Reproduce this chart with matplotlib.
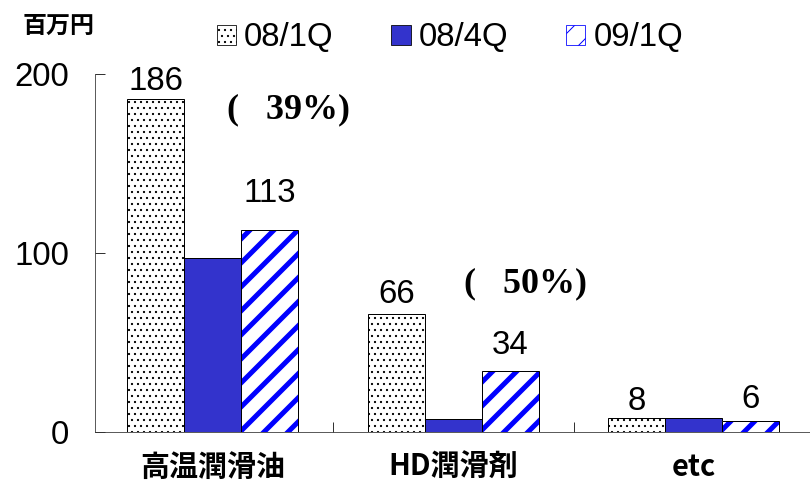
import matplotlib.pyplot as plt
import numpy as np
from matplotlib.patches import Patch

categories = ["高温潤滑油", "HD潤滑剤", "etc"]
series_names = ["08/1Q", "08/4Q", "09/1Q"]
q1_08 = [186, 66, 8]
q4_08 = [97, 7, 8]
q1_09 = [113, 34, 6]
# value labels and how far above the bar top their centre sits
labels_q1_08 = ["186", "66", "8"]
labels_q1_09 = ["113", "34", "6"]
label_gap_q1_08 = [12, 13, 11]
label_gap_q1_09 = [22, 16, 14]
change_texts = ["(   39%)", "(   50%)"]

plt.rcParams['font.family'] = ['Liberation Sans', 'Noto Sans CJK JP']

DPI = 72
fig = plt.figure(figsize=(810 / DPI, 484 / DPI), dpi=DPI)
ax = fig.add_axes([95 / 810, 52 / 484, 715 / 810, 358 / 484])

x = np.arange(len(categories))
w = 0.237
blue = "#3333CC"

with plt.rc_context({'hatch.linewidth': 1.0}):
    ax.bar(x - w, q1_08, w, color="white", edgecolor="black", hatch="..", linewidth=0)
ax.bar(x, q4_08, w, color=blue, edgecolor="black", linewidth=1)
with plt.rc_context({'hatch.linewidth': 5.0}):
    ax.bar(x + w, q1_09, w, color="white", edgecolor="#0000FF", hatch="/", linewidth=0)
# black outlines on top of the hatched bars
ax.bar(x - w, q1_08, w, fill=False, edgecolor="black", linewidth=1)
ax.bar(x + w, q1_09, w, fill=False, edgecolor="black", linewidth=1)

for i in range(len(categories)):
    ax.text(x[i] - w, q1_08[i] + label_gap_q1_08[i], labels_q1_08[i],
            ha="center", va="center_baseline", fontsize=33)
    ax.text(x[i] + w, q1_09[i] + label_gap_q1_09[i], labels_q1_09[i],
            ha="center", va="center_baseline", fontsize=33)

ax.text(0.058, 180, change_texts[0], fontsize=36, fontweight="bold",
        family="Liberation Serif", va="center", ha="left")
ax.text(1.046, 83, change_texts[1], fontsize=36, fontweight="bold",
        family="Liberation Serif", va="center", ha="left")

ax.set_xlim(-0.49, -0.49 + 715 / 240.5)
ax.set_ylim(0, 200)
ax.set_yticks([0, 100, 200])
ax.tick_params(axis="y", direction="in", length=10, labelsize=33, pad=26)
ax.set_xticks([0.5, 1.5])
ax.set_xticklabels([])
ax.tick_params(axis="x", direction="in", length=10)
ax.spines["top"].set_visible(False)
ax.spines["right"].set_visible(False)
for s in ["left", "bottom"]:
    ax.spines[s].set_color("#333333")

for i, c in enumerate(categories):
    ax.text(x[i], -19.5, c, ha="center", va="center", fontsize=29,
            fontweight="bold", family=["Noto Sans CJK JP"])

fig.text(23 / 810, 1 - 26 / 484, "百万円", fontsize=24, fontweight="bold",
         family=["Noto Sans CJK JP"], va="center", ha="left")

# legend
with plt.rc_context({'hatch.linewidth': 4.0}):
    stripe_patch = Patch(facecolor="white", edgecolor="#0000FF", hatch="/", linewidth=0.8)
handles = [
    Patch(facecolor="white", edgecolor="black", hatch="..", linewidth=0.8),
    Patch(facecolor=blue, edgecolor="black", linewidth=0.8),
    stripe_patch,
]
fig.legend(handles, series_names, loc="center", bbox_to_anchor=(450 / 810, 1 - 38 / 484),
           ncol=3, frameon=False, fontsize=33, handlelength=0.58, handleheight=0.58,
           handletextpad=0.25, columnspacing=1.75, borderpad=0, borderaxespad=0)

fig.savefig("out.png", dpi=DPI)
